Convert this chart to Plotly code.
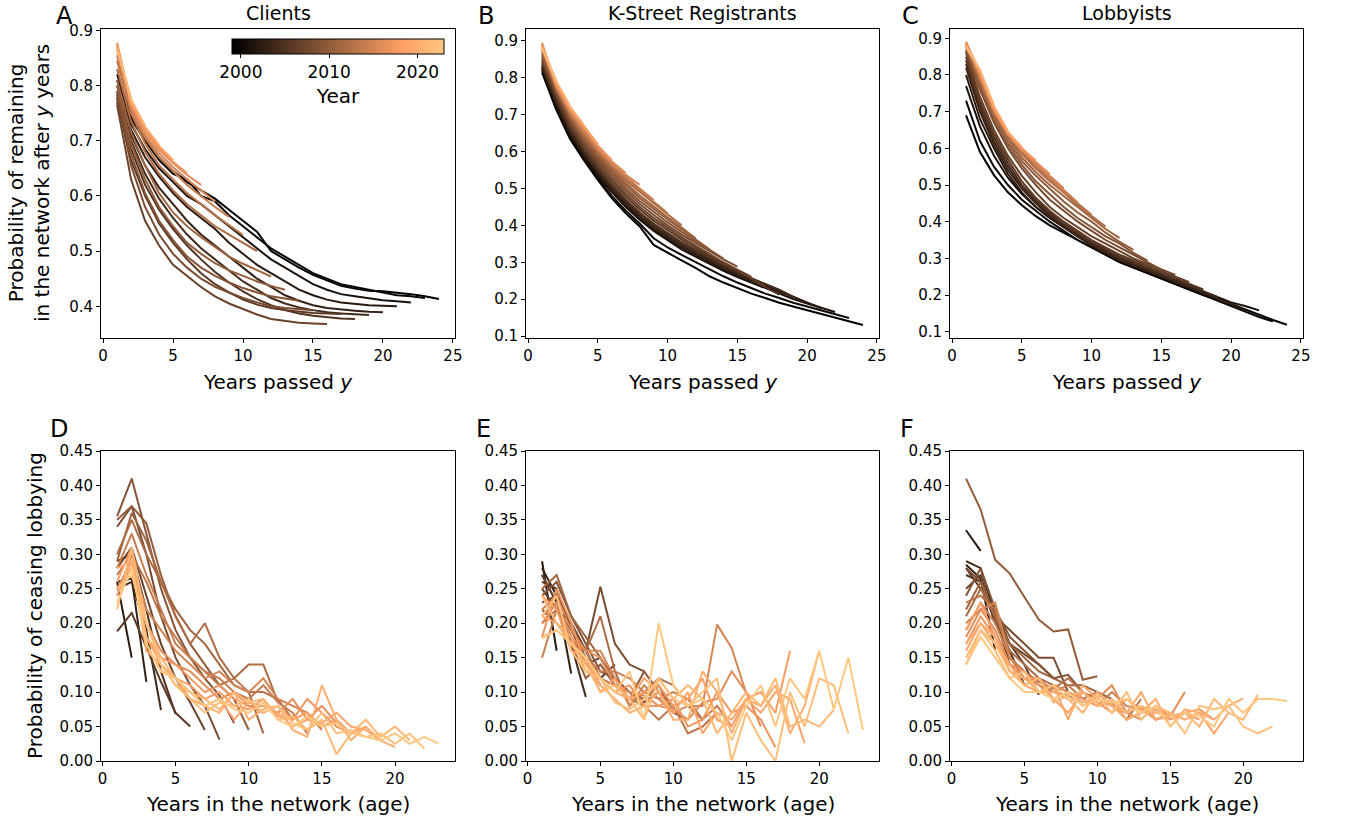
import plotly.graph_objects as go

W, H = 1346, 825
FONT = "DejaVu Sans"

# ---------------- data ----------------
A_years = list(range(1999, 2022))
A_values = [
    [0.82,0.745,0.705,0.67,0.645,0.625,0.61,0.595,0.575,0.555,0.535,0.50,0.485,0.47,0.457,0.447,0.437,0.432,0.428,0.427,0.425,0.422,0.418,0.413],
    [0.81,0.74,0.70,0.665,0.64,0.63,0.60,0.59,0.565,0.545,0.525,0.505,0.49,0.475,0.46,0.45,0.44,0.435,0.43,0.425,0.42,0.418,0.415],
    [0.80,0.73,0.685,0.65,0.625,0.60,0.585,0.565,0.545,0.525,0.505,0.485,0.47,0.455,0.44,0.43,0.422,0.418,0.414,0.411,0.409,0.407],
    [0.79,0.72,0.67,0.635,0.605,0.58,0.56,0.54,0.515,0.495,0.475,0.46,0.445,0.43,0.42,0.412,0.407,0.404,0.402,0.401,0.40],
    [0.785,0.71,0.655,0.615,0.585,0.555,0.53,0.51,0.49,0.47,0.45,0.435,0.42,0.41,0.402,0.397,0.394,0.392,0.39,0.389],
    [0.78,0.70,0.64,0.595,0.56,0.53,0.505,0.485,0.465,0.445,0.43,0.415,0.405,0.398,0.393,0.389,0.387,0.385,0.384],
    [0.775,0.685,0.62,0.575,0.54,0.51,0.485,0.462,0.443,0.427,0.413,0.402,0.393,0.387,0.383,0.38,0.378,0.377],
    [0.77,0.665,0.60,0.55,0.515,0.485,0.46,0.44,0.425,0.412,0.403,0.397,0.393,0.39,0.388,0.387,0.386],
    [0.765,0.63,0.555,0.51,0.475,0.455,0.435,0.418,0.405,0.395,0.385,0.377,0.373,0.37,0.369,0.368],
    [0.78,0.655,0.58,0.53,0.495,0.47,0.45,0.435,0.425,0.415,0.407,0.40,0.397,0.395,0.393],
    [0.79,0.675,0.605,0.555,0.52,0.49,0.47,0.455,0.443,0.433,0.425,0.418,0.414,0.41],
    [0.80,0.695,0.63,0.58,0.545,0.515,0.495,0.478,0.465,0.455,0.445,0.437,0.43],
    [0.81,0.715,0.655,0.605,0.57,0.545,0.525,0.508,0.49,0.477,0.465,0.454],
    [0.83,0.735,0.68,0.64,0.61,0.585,0.565,0.545,0.53,0.515,0.50],
    [0.845,0.75,0.695,0.655,0.63,0.605,0.585,0.565,0.547,0.529],
    [0.855,0.755,0.705,0.67,0.645,0.62,0.60,0.58,0.562],
    [0.865,0.76,0.71,0.677,0.652,0.63,0.61,0.59],
    [0.877,0.765,0.717,0.683,0.659,0.638,0.62],
    [0.875,0.768,0.72,0.686,0.662,0.641],
    [0.872,0.77,0.722,0.69,0.665],
    [0.87,0.772,0.725,0.692],
    [0.868,0.775,0.727],
    [0.865,0.778],
]

B_years = list(range(1999, 2022))
B_values = [
    [0.815,0.715,0.635,0.577,0.523,0.474,0.433,0.397,0.347,0.325,0.305,0.285,0.262,0.245,0.23,0.215,0.203,0.19,0.18,0.17,0.16,0.15,0.14,0.13],
    [0.82,0.72,0.64,0.58,0.53,0.48,0.44,0.405,0.365,0.34,0.32,0.30,0.28,0.262,0.245,0.23,0.215,0.203,0.19,0.18,0.17,0.16,0.149],
    [0.825,0.725,0.645,0.585,0.535,0.49,0.45,0.415,0.385,0.36,0.335,0.315,0.295,0.277,0.26,0.245,0.23,0.215,0.2,0.188,0.176,0.165],
    [0.83,0.73,0.65,0.59,0.54,0.495,0.455,0.42,0.39,0.365,0.34,0.32,0.3,0.282,0.265,0.25,0.235,0.22,0.205,0.19,0.176],
    [0.83,0.735,0.655,0.595,0.545,0.5,0.46,0.425,0.395,0.37,0.345,0.325,0.305,0.287,0.27,0.255,0.24,0.225,0.207,0.19],
    [0.835,0.74,0.66,0.6,0.55,0.505,0.465,0.43,0.4,0.375,0.35,0.33,0.31,0.29,0.273,0.257,0.242,0.225,0.205],
    [0.84,0.745,0.665,0.605,0.555,0.51,0.47,0.435,0.405,0.38,0.355,0.335,0.315,0.295,0.277,0.255,0.233,0.212],
    [0.845,0.75,0.67,0.612,0.562,0.518,0.478,0.443,0.413,0.387,0.362,0.34,0.318,0.297,0.277,0.255,0.234],
    [0.85,0.755,0.678,0.62,0.57,0.525,0.485,0.45,0.42,0.393,0.368,0.345,0.322,0.3,0.28,0.26],
    [0.855,0.76,0.683,0.625,0.577,0.533,0.493,0.458,0.428,0.4,0.375,0.352,0.33,0.308,0.288],
    [0.86,0.765,0.688,0.63,0.582,0.54,0.5,0.466,0.436,0.408,0.382,0.358,0.334,0.31],
    [0.865,0.77,0.693,0.636,0.588,0.547,0.508,0.474,0.444,0.416,0.389,0.362,0.335],
    [0.87,0.772,0.697,0.64,0.593,0.553,0.515,0.481,0.451,0.422,0.394,0.365],
    [0.875,0.774,0.7,0.645,0.598,0.558,0.522,0.49,0.46,0.43,0.40],
    [0.88,0.775,0.703,0.65,0.602,0.563,0.527,0.495,0.464,0.433],
    [0.885,0.776,0.706,0.655,0.606,0.566,0.532,0.5,0.469],
    [0.895,0.776,0.708,0.659,0.609,0.569,0.537,0.51],
    [0.89,0.785,0.715,0.664,0.614,0.574,0.542],
    [0.888,0.787,0.717,0.667,0.617,0.577],
    [0.886,0.789,0.72,0.67,0.62],
    [0.884,0.79,0.722,0.672],
    [0.882,0.792,0.724],
    [0.88,0.794],
]

C_years = list(range(1999, 2022))
C_values = [
    [0.69,0.59,0.527,0.48,0.445,0.415,0.39,0.37,0.35,0.33,0.31,0.29,0.275,0.26,0.245,0.23,0.215,0.2,0.19,0.175,0.16,0.145,0.132,0.119],
    [0.73,0.62,0.55,0.50,0.46,0.43,0.40,0.375,0.35,0.33,0.31,0.29,0.275,0.26,0.245,0.23,0.215,0.2,0.185,0.17,0.155,0.14,0.128],
    [0.77,0.66,0.58,0.52,0.475,0.44,0.41,0.385,0.36,0.34,0.32,0.30,0.285,0.27,0.255,0.24,0.225,0.21,0.195,0.18,0.17,0.158],
    [0.80,0.68,0.60,0.53,0.48,0.44,0.41,0.385,0.36,0.335,0.315,0.295,0.28,0.265,0.25,0.235,0.22,0.205,0.19,0.175,0.16],
    [0.82,0.70,0.61,0.54,0.49,0.45,0.415,0.385,0.36,0.335,0.315,0.295,0.28,0.265,0.25,0.235,0.22,0.205,0.19,0.175],
    [0.83,0.71,0.62,0.55,0.495,0.455,0.42,0.39,0.365,0.34,0.32,0.30,0.285,0.27,0.255,0.24,0.225,0.21,0.195],
    [0.84,0.72,0.63,0.56,0.50,0.46,0.425,0.395,0.37,0.345,0.325,0.305,0.29,0.275,0.26,0.245,0.23,0.215],
    [0.85,0.73,0.64,0.57,0.51,0.465,0.43,0.40,0.375,0.35,0.33,0.31,0.295,0.28,0.265,0.25,0.235],
    [0.86,0.74,0.65,0.58,0.525,0.48,0.44,0.41,0.385,0.36,0.34,0.32,0.30,0.285,0.27,0.255],
    [0.865,0.76,0.67,0.60,0.545,0.50,0.46,0.43,0.40,0.375,0.35,0.33,0.31,0.29,0.269],
    [0.87,0.765,0.675,0.61,0.555,0.51,0.475,0.44,0.41,0.385,0.36,0.34,0.315,0.294],
    [0.875,0.775,0.685,0.62,0.565,0.525,0.49,0.455,0.425,0.40,0.37,0.345,0.323],
    [0.88,0.78,0.69,0.63,0.575,0.535,0.50,0.47,0.44,0.41,0.38,0.355],
    [0.88,0.785,0.695,0.635,0.585,0.545,0.51,0.48,0.445,0.415,0.387],
    [0.885,0.79,0.70,0.64,0.59,0.55,0.515,0.48,0.45,0.419],
    [0.885,0.795,0.70,0.64,0.595,0.555,0.52,0.485,0.452],
    [0.89,0.80,0.705,0.64,0.60,0.56,0.525,0.491],
    [0.89,0.805,0.705,0.637,0.596,0.564,0.53],
    [0.885,0.807,0.71,0.642,0.60,0.567],
    [0.882,0.81,0.712,0.645,0.603],
    [0.88,0.812,0.715,0.647],
    [0.878,0.814,0.717],
    [0.876,0.815],
]

D_years = list(range(2002, 2024))
D_values = [
    [0.26,0.15],
    [0.26,0.265,0.115],
    [0.25,0.26,0.19,0.074],
    [0.29,0.30,0.22,0.13,0.068],
    [0.188,0.215,0.165,0.115,0.07,0.05],
    [0.28,0.31,0.24,0.17,0.12,0.085,0.045],
    [0.34,0.37,0.30,0.21,0.15,0.11,0.08,0.031],
    [0.355,0.41,0.33,0.25,0.19,0.15,0.12,0.095,0.055],
    [0.35,0.37,0.345,0.27,0.21,0.17,0.14,0.11,0.09,0.045],
    [0.29,0.36,0.32,0.26,0.22,0.19,0.17,0.14,0.11,0.10,0.04],
    [0.30,0.35,0.30,0.26,0.21,0.17,0.20,0.15,0.12,0.14,0.14,0.085],
    [0.27,0.30,0.26,0.21,0.18,0.15,0.13,0.11,0.12,0.10,0.10,0.09,0.06],
    [0.28,0.33,0.27,0.22,0.17,0.15,0.13,0.12,0.10,0.09,0.11,0.085,0.07,0.04],
    [0.25,0.29,0.22,0.19,0.16,0.14,0.12,0.13,0.11,0.10,0.12,0.09,0.08,0.07,0.045],
    [0.24,0.30,0.20,0.16,0.14,0.13,0.11,0.09,0.10,0.08,0.08,0.07,0.09,0.06,0.08,0.055],
    [0.25,0.28,0.18,0.15,0.14,0.12,0.10,0.11,0.09,0.08,0.07,0.08,0.06,0.09,0.07,0.05,0.04],
    [0.26,0.31,0.17,0.13,0.12,0.11,0.09,0.10,0.08,0.075,0.09,0.065,0.06,0.07,0.05,0.06,0.04,0.05],
    [0.24,0.29,0.16,0.14,0.12,0.09,0.08,0.09,0.06,0.085,0.08,0.07,0.05,0.06,0.055,0.07,0.05,0.045,0.03],
    [0.28,0.29,0.18,0.14,0.11,0.10,0.08,0.07,0.10,0.06,0.075,0.08,0.045,0.035,0.11,0.06,0.03,0.05,0.03,0.02],
    [0.22,0.31,0.20,0.15,0.12,0.10,0.09,0.075,0.10,0.085,0.09,0.06,0.065,0.045,0.06,0.01,0.04,0.06,0.035,0.05,0.03],
    [0.25,0.27,0.20,0.14,0.11,0.09,0.07,0.085,0.08,0.09,0.07,0.08,0.055,0.045,0.07,0.04,0.045,0.035,0.04,0.025,0.04,0.018],
    [0.23,0.28,0.17,0.13,0.12,0.10,0.08,0.09,0.075,0.07,0.085,0.06,0.05,0.065,0.05,0.055,0.04,0.035,0.03,0.04,0.025,0.035,0.025],
]

E_years = list(range(2002, 2024))
E_values = [
    [0.29,0.16],
    [0.28,0.24,0.127],
    [0.27,0.23,0.17,0.093],
    [0.26,0.25,0.19,0.15,0.11],
    [0.25,0.22,0.20,0.16,0.12,0.14],
    [0.27,0.23,0.18,0.14,0.15,0.11,0.10],
    [0.23,0.24,0.20,0.16,0.253,0.17,0.14,0.13],
    [0.24,0.26,0.21,0.17,0.13,0.12,0.10,0.085,0.10],
    [0.22,0.20,0.17,0.12,0.14,0.11,0.09,0.13,0.10,0.08],
    [0.25,0.27,0.21,0.18,0.15,0.12,0.10,0.09,0.11,0.07,0.06],
    [0.20,0.22,0.19,0.16,0.21,0.13,0.08,0.10,0.12,0.11,0.08,0.06],
    [0.21,0.23,0.17,0.16,0.12,0.11,0.09,0.08,0.06,0.08,0.04,0.05,0.07],
    [0.15,0.22,0.18,0.15,0.13,0.13,0.12,0.10,0.09,0.10,0.09,0.06,0.08,0.05],
    [0.22,0.24,0.19,0.16,0.16,0.12,0.08,0.11,0.09,0.07,0.08,0.08,0.198,0.164,0.098],
    [0.20,0.23,0.18,0.16,0.15,0.11,0.10,0.095,0.08,0.075,0.06,0.085,0.09,0.13,0.10,0.05],
    [0.18,0.25,0.20,0.14,0.12,0.10,0.11,0.08,0.08,0.09,0.05,0.06,0.10,0.07,0.08,0.06,0.02],
    [0.24,0.22,0.16,0.15,0.10,0.12,0.09,0.10,0.11,0.08,0.09,0.12,0.06,0.05,0.09,0.10,0.07,0.16],
    [0.21,0.20,0.18,0.13,0.12,0.10,0.09,0.12,0.10,0.07,0.10,0.04,0.07,0.06,0.09,0.07,0.10,0.09,0.026],
    [0.18,0.19,0.17,0.15,0.11,0.09,0.07,0.08,0.10,0.06,0.06,0.13,0.10,0.04,0.09,0.08,0.11,0.04,0.08,0.16],
    [0.24,0.20,0.17,0.14,0.10,0.11,0.09,0.06,0.12,0.09,0.11,0.09,0.04,0.07,0.10,0.08,0.12,0.05,0.06,0.05,0.074],
    [0.21,0.24,0.16,0.13,0.12,0.085,0.075,0.09,0.12,0.09,0.08,0.10,0.12,0.00,0.07,0.03,0.00,0.10,0.05,0.12,0.11,0.04],
    [0.178,0.19,0.17,0.15,0.12,0.10,0.13,0.06,0.20,0.11,0.08,0.09,0.07,0.03,0.08,0.11,0.05,0.12,0.09,0.16,0.075,0.15,0.045],
]

F_years = list(range(2002, 2024))
F_values = [
    [0.335,0.305],
    [0.285,0.265,0.16],
    [0.29,0.28,0.21,0.14],
    [0.27,0.26,0.20,0.16,0.11],
    [0.28,0.25,0.22,0.17,0.14,0.096],
    [0.25,0.27,0.20,0.17,0.155,0.14,0.12],
    [0.28,0.26,0.21,0.19,0.17,0.15,0.15,0.10],
    [0.24,0.28,0.22,0.18,0.16,0.14,0.12,0.125,0.10],
    [0.41,0.365,0.292,0.272,0.238,0.205,0.188,0.191,0.118,0.123],
    [0.22,0.26,0.21,0.17,0.15,0.13,0.12,0.11,0.11,0.10,0.09],
    [0.21,0.25,0.21,0.16,0.14,0.12,0.11,0.10,0.09,0.10,0.08,0.07],
    [0.23,0.24,0.22,0.15,0.13,0.115,0.105,0.12,0.10,0.09,0.085,0.06,0.09],
    [0.19,0.23,0.20,0.15,0.13,0.11,0.10,0.11,0.09,0.08,0.10,0.08,0.075,0.07],
    [0.20,0.22,0.23,0.15,0.12,0.12,0.10,0.095,0.085,0.09,0.08,0.07,0.08,0.06,0.07],
    [0.18,0.22,0.19,0.14,0.13,0.10,0.11,0.10,0.08,0.09,0.11,0.07,0.06,0.08,0.065,0.10],
    [0.17,0.21,0.18,0.14,0.12,0.11,0.09,0.10,0.09,0.08,0.085,0.06,0.07,0.075,0.06,0.07,0.06],
    [0.19,0.23,0.18,0.13,0.12,0.12,0.09,0.07,0.10,0.085,0.07,0.09,0.075,0.06,0.065,0.07,0.075,0.06],
    [0.16,0.20,0.17,0.14,0.11,0.10,0.11,0.06,0.11,0.09,0.08,0.07,0.10,0.06,0.07,0.06,0.07,0.04,0.07],
    [0.17,0.20,0.18,0.13,0.12,0.10,0.10,0.09,0.07,0.10,0.08,0.06,0.07,0.09,0.05,0.075,0.07,0.06,0.08,0.091],
    [0.15,0.19,0.17,0.13,0.11,0.12,0.085,0.095,0.10,0.08,0.09,0.07,0.08,0.07,0.065,0.07,0.05,0.09,0.07,0.06,0.096],
    [0.14,0.19,0.16,0.12,0.13,0.10,0.11,0.09,0.085,0.095,0.07,0.10,0.06,0.08,0.07,0.04,0.08,0.075,0.08,0.05,0.04,0.05],
    [0.14,0.18,0.15,0.12,0.10,0.10,0.09,0.10,0.08,0.09,0.085,0.09,0.07,0.08,0.05,0.07,0.065,0.05,0.09,0.07,0.09,0.09,0.087],
]

panel_titles = ["Clients", "K-Street Registrants", "Lobbyists"]
panel_letters = ["A", "B", "C", "D", "E", "F"]
cbar_ticks = [2000, 2010, 2020]
YEAR_MIN, YEAR_MAX = 1999, 2023

# ---------------- styling helpers ----------------
def copper(year):
    t = (year - YEAR_MIN) / (YEAR_MAX - YEAR_MIN)
    t = min(max(t, 0.0), 1.0)
    r, g, b = min(1.0, 1.25 * t), 0.7812 * t, 0.4975 * t
    return "rgb(%d,%d,%d)" % (round(r * 255), round(g * 255), round(b * 255))

copper_scale = [[s, copper(YEAR_MIN + s * (YEAR_MAX - YEAR_MIN))] for s in (0, 0.2, 0.4, 0.6, 0.8, 1.0)]

def px_x(p):
    return p / W

def px_y(p):
    return 1 - p / H

cols_px = [(101, 455), (526, 879), (950, 1303)]
rows_px = [(29, 338), (451, 761)]

fig = go.Figure()

panels = [
    (A_years, A_values), (B_years, B_values), (C_years, C_values),
    (D_years, D_values), (E_years, E_values), (F_years, F_values),
]

for i, (years, vals) in enumerate(panels):
    ax = "" if i == 0 else str(i + 1)
    for yr, v in zip(years, vals):
        fig.add_trace(go.Scatter(
            x=list(range(1, len(v) + 1)), y=v, mode="lines",
            line=dict(color=copper(yr), width=2),
            xaxis="x" + ax, yaxis="y" + ax, showlegend=False, hoverinfo="skip"))

# colorbar carrier
fig.add_trace(go.Scatter(
    x=[None], y=[None], mode="markers", xaxis="x", yaxis="y", showlegend=False, hoverinfo="skip",
    marker=dict(color=[YEAR_MIN], cmin=YEAR_MIN, cmax=YEAR_MAX, colorscale=copper_scale, showscale=True,
                colorbar=dict(orientation="h", x=px_x(338), xanchor="center", y=px_y(39), yanchor="top",
                              len=212, lenmode="pixels", thickness=15, thicknessmode="pixels",
                              outlinewidth=1, outlinecolor="black", tickvals=cbar_ticks, ticks="outside",
                              ticklen=4, tickcolor="black", tickfont=dict(family=FONT, size=17, color="black"),
                              title=dict(text="Year", side="bottom", font=dict(family=FONT, size=20, color="black")),
                              xpad=0, ypad=0))))

top_yranges = [[0.3425, 0.9025], [0.0946, 0.9325], [0.0828, 0.9254]]

layout = dict(width=W, height=H, margin=dict(l=0, r=0, t=0, b=0, autoexpand=False), plot_bgcolor="white",
              paper_bgcolor="white", font=dict(family=FONT, color="black"))

for i in range(6):
    r, c = divmod(i, 3)
    ax = "" if i == 0 else str(i + 1)
    common = dict(showline=True, mirror=True, linecolor="black", linewidth=1, ticks="outside",
                  ticklen=4, tickwidth=1, tickcolor="black", showgrid=False, zeroline=False,
                  automargin=False, tickfont=dict(family=FONT, size=15, color="black"))
    xa = dict(common, domain=[px_x(cols_px[c][0]), px_x(cols_px[c][1])], anchor="y" + ax)
    ya = dict(common, domain=[px_y(rows_px[r][1]), px_y(rows_px[r][0])], anchor="x" + ax)
    if r == 0:
        xa.update(range=[-0.15, 25.15], tickvals=[0, 5, 10, 15, 20, 25])
        ya.update(range=top_yranges[c], dtick=0.1, tick0=0, tickformat=".1f")
    else:
        xa.update(range=[-0.1, 24.1], tickvals=[0, 5, 10, 15, 20])
        ya.update(range=[0, 0.45], dtick=0.05, tick0=0, tickformat=".2f")
    layout["xaxis" + ax] = xa
    layout["yaxis" + ax] = ya

fig.update_layout(**layout)

ann = []
for c in range(3):
    cx = (cols_px[c][0] + cols_px[c][1]) / 2
    ann.append(dict(text=panel_titles[c], x=px_x(cx), y=px_y(13), xanchor="center", yanchor="middle",
                    font=dict(size=19)))
    ann.append(dict(text="Years passed <i>y</i>", x=px_x(cx), y=px_y(382), xanchor="center", yanchor="middle",
                    font=dict(size=20)))
    ann.append(dict(text="Years in the network (age)", x=px_x(cx), y=px_y(804), xanchor="center",
                    yanchor="middle", font=dict(size=20)))
letter_top = [(64, 0), (486, 0), (910, 0), (59, 413), (483, 413), (907, 413)]
for L, (lx, ly) in zip(panel_letters, letter_top):
    ann.append(dict(text=L, x=px_x(lx), y=px_y(ly), xanchor="center", yanchor="top", font=dict(size=24)))
ann.append(dict(text="Probability of remaining<br>in the network after <i>y</i> years", textangle=-90,
                x=px_x(29), y=px_y(183), xanchor="center", yanchor="middle", font=dict(size=20)))
ann.append(dict(text="Probability of ceasing lobbying", textangle=-90,
                x=px_x(35), y=px_y(606), xanchor="center", yanchor="middle", font=dict(size=20)))
for a in ann:
    a.update(xref="paper", yref="paper", showarrow=False)
    a["font"] = dict(family=FONT, color="black", size=a["font"]["size"])
fig.update_layout(annotations=ann)

fig.write_html("out.html")
